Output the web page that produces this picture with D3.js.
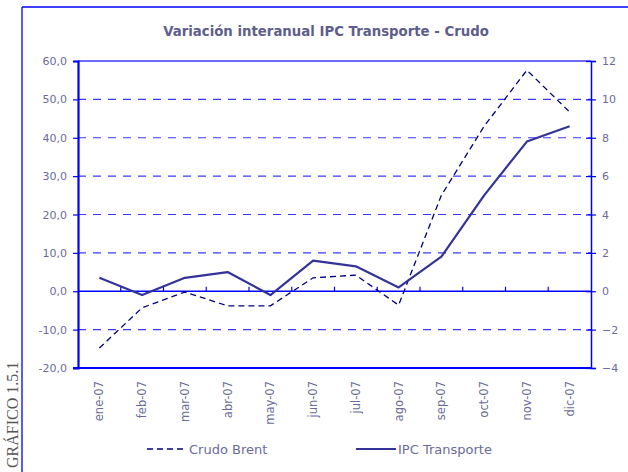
<!DOCTYPE html>
<html><head><meta charset="utf-8">
<script src="https://cdn.jsdelivr.net/npm/d3@7/dist/d3.min.js"></script>
<style>html,body{margin:0;padding:0;background:#fff;}svg{display:block;}</style>
</head><body>
<script>
const months = ["ene-07","feb-07","mar-07","abr-07","may-07","jun-07","jul-07","ago-07","sep-07","oct-07","nov-07","dic-07"];
const crudoBrent = [-14.8,-4.3,-0.2,-3.8,-3.8,3.5,4.2,-3.6,25.0,43.0,57.6,46.7];
const ipcTransporte = [0.7,-0.2,0.7,1.0,-0.2,1.6,1.3,0.2,1.8,5.0,7.8,8.6];
const leftTicks = [-20,-10,0,10,20,30,40,50,60];
const rightTicks = [-4,-2,0,2,4,6,8,10,12];
const title = "Variación interanual IPC Transporte - Crudo";
const seriesNames = ["Crudo Brent","IPC Transporte"];
const sideLabel = "GRÁFICO 1.5.1";

const W = 628, H = 472;
const L = 78, R = 591, T = 61, B = 368;
const blue = "#0000ff", grid = "#3a3aff", lab = "#6b6b99";
const font = "'DejaVu Sans', Verdana, sans-serif";

const svg = d3.select("body").append("svg").attr("width", W).attr("height", H);
svg.append("rect").attr("width", W).attr("height", H).attr("fill", "#fff");

// outer frame
svg.append("line").attr("x1",22).attr("x2",22).attr("y1",7).attr("y2",H).attr("stroke",blue).attr("stroke-width",1.3);
svg.append("line").attr("x1",22).attr("x2",W).attr("y1",7).attr("y2",7).attr("stroke",blue).attr("stroke-width",1.3);

// side label
svg.append("text").attr("transform","translate(18,468) rotate(-90)")
  .attr("font-family","'Liberation Serif', 'Times New Roman', serif").attr("font-size",16)
  .attr("fill","#555").text(sideLabel);

// title
svg.append("text").attr("x",326).attr("y",36).attr("text-anchor","middle")
  .attr("font-family",font).attr("font-weight","bold").attr("font-size",13.3)
  .attr("fill","#5e5e8c").text(title);

const x = d3.scaleBand().domain(months).range([L, R]);
const yL = d3.scaleLinear().domain([-20,60]).range([B, T]);
const yR = d3.scaleLinear().domain([-4,12]).range([B, T]);
const cx = m => x(m) + x.bandwidth()/2;
const fmt = d => d.toFixed(1).replace(".", ",");

// grid lines
svg.append("g").selectAll("line").data(leftTicks.filter(d => d !== 0 && d !== -20 && d !== 60))
  .join("line").attr("x1",L).attr("x2",R).attr("y1",d=>yL(d)).attr("y2",d=>yL(d))
  .attr("stroke",grid).attr("stroke-width",1.2).attr("stroke-dasharray","8,7");
// top border
svg.append("line").attr("x1",L).attr("x2",R).attr("y1",yL(60)).attr("y2",yL(60))
  .attr("stroke","#3d3dff").attr("stroke-width",1.5);

// left axis
const gL = svg.append("g").attr("transform",`translate(${L},0)`)
  .call(d3.axisLeft(yL).tickValues(leftTicks).tickFormat(fmt).tickSize(5).tickPadding(6));
gL.select(".domain").attr("stroke",blue).attr("stroke-width",2.2);
gL.selectAll(".tick line").attr("stroke",blue).attr("stroke-width",1.2);
gL.selectAll(".tick text").attr("fill",lab).attr("font-family",font).attr("font-size",11);

// right axis
const gR = svg.append("g").attr("transform",`translate(${R},0)`)
  .call(d3.axisRight(yR).tickValues(rightTicks).tickFormat(d3.format("d")).tickSize(5).tickPadding(6));
gR.select(".domain").attr("stroke",blue).attr("stroke-width",1.5);
gR.selectAll(".tick line").attr("stroke",blue).attr("stroke-width",1.2).attr("x1",-5);
gR.selectAll(".tick text").attr("fill",lab).attr("font-family",font).attr("font-size",11);

// zero line
svg.append("line").attr("x1",L).attr("x2",R).attr("y1",yL(0)).attr("y2",yL(0))
  .attr("stroke",blue).attr("stroke-width",1.5);
// bottom axis line
svg.append("line").attr("x1",L-5).attr("x2",R).attr("y1",B).attr("y2",B)
  .attr("stroke",blue).attr("stroke-width",2.2);

// category ticks on zero line
svg.append("g").selectAll("line").data(months.slice(1))
  .join("line").attr("x1",d=>x(d)).attr("x2",d=>x(d)).attr("y1",yL(0)).attr("y2",yL(0)-4.5)
  .attr("stroke",blue).attr("stroke-width",1.2);

// x labels
svg.append("g").selectAll("text").data(months).join("text")
  .attr("transform",d=>`translate(${cx(d)},${B+13}) rotate(-90)`)
  .attr("text-anchor","end").attr("dy","0.35em")
  .attr("font-family",font).attr("font-size",11.5).attr("fill",lab).text(d=>d);

// lines
const lineL = d3.line().x((d,i)=>cx(months[i])).y(d=>yL(d));
const lineR = d3.line().x((d,i)=>cx(months[i])).y(d=>yR(d));
svg.append("path").datum(crudoBrent).attr("d",lineL).attr("fill","none")
  .attr("stroke","#000080").attr("stroke-width",1.3).attr("stroke-dasharray","6,4");
svg.append("path").datum(ipcTransporte).attr("d",lineR).attr("fill","none")
  .attr("stroke","#333399").attr("stroke-width",2.2).attr("stroke-linejoin","round");

// legend
const ly = 449;
svg.append("line").attr("x1",147).attr("x2",187).attr("y1",ly).attr("y2",ly)
  .attr("stroke","#000080").attr("stroke-width",1.3).attr("stroke-dasharray","6,4");
svg.append("text").attr("x",189).attr("y",ly).attr("dy","0.36em").attr("font-family",font)
  .attr("font-size",13).attr("fill",lab).text(seriesNames[0]);
svg.append("line").attr("x1",356).attr("x2",396).attr("y1",ly).attr("y2",ly)
  .attr("stroke","#333399").attr("stroke-width",2.2);
svg.append("text").attr("x",398).attr("y",ly).attr("dy","0.36em").attr("font-family",font)
  .attr("font-size",13).attr("fill",lab).text(seriesNames[1]);
</script>
</body></html>
